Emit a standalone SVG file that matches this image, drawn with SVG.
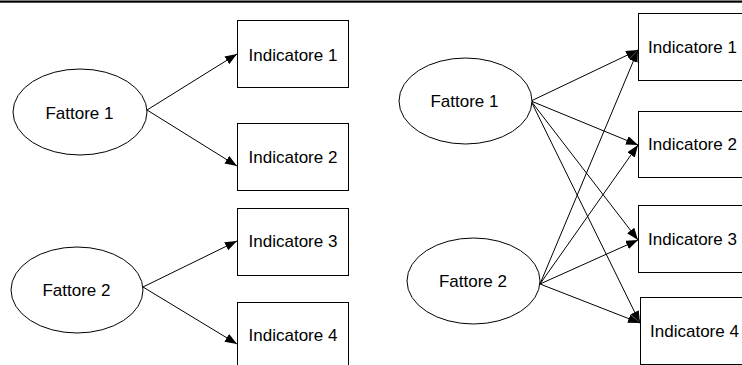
<svg xmlns="http://www.w3.org/2000/svg" width="742" height="365" viewBox="0 0 742 365">
<style>
.n{fill:#fff;stroke:#000;stroke-width:1}
.t{font-family:"Liberation Sans",Arial,sans-serif;font-size:17px;fill:#000;text-anchor:middle}
.c line{stroke:#000;stroke-width:1;marker-end:url(#ah)}
</style>
<defs>
<marker id="ah" markerUnits="userSpaceOnUse" markerWidth="13" markerHeight="10" refX="12" refY="4.5" orient="auto">
<path d="M0,0 L12,4.5 L0,9 z" fill="#000"/>
</marker>
</defs>
<rect x="0" y="0.5" width="742" height="2.2" fill="#000"/>
<g id="connectors" class="c">
<line x1="147" y1="110" x2="237" y2="54"/>
<line x1="147" y1="110" x2="237" y2="166"/>
<line x1="143" y1="287" x2="237" y2="241"/>
<line x1="143" y1="287" x2="237" y2="344"/>
<line x1="531" y1="101" x2="638" y2="50"/>
<line x1="531" y1="101" x2="638" y2="145"/>
<line x1="531" y1="101" x2="638" y2="240"/>
<line x1="531" y1="101" x2="640" y2="323"/>
<line x1="540" y1="284" x2="638" y2="50"/>
<line x1="540" y1="284" x2="638" y2="145"/>
<line x1="540" y1="284" x2="638" y2="240"/>
<line x1="540" y1="284" x2="640" y2="323"/>
</g>
<g id="L-F1"><ellipse class="n" cx="80" cy="112" rx="67" ry="43"/><text class="t" x="79.5" y="118.5">Fattore 1</text></g>
<g id="L-F2"><ellipse class="n" cx="77" cy="290" rx="66" ry="43"/><text class="t" x="76.5" y="295.5">Fattore 2</text></g>
<g id="L-I1"><rect class="n" x="237.5" y="20.5" width="111" height="67"/><text class="t" x="293" y="60.5">Indicatore 1</text></g>
<g id="L-I2"><rect class="n" x="237.5" y="123.5" width="111" height="67"/><text class="t" x="293" y="162.5">Indicatore 2</text></g>
<g id="L-I3"><rect class="n" x="237.5" y="208.5" width="111" height="67"/><text class="t" x="293" y="247">Indicatore 3</text></g>
<g id="L-I4"><rect class="n" x="237.5" y="302.5" width="111" height="67"/><text class="t" x="293" y="340.5">Indicatore 4</text></g>
<g id="R-F1"><ellipse class="n" cx="465.5" cy="101" rx="66.5" ry="43"/><text class="t" x="464.5" y="107">Fattore 1</text></g>
<g id="R-F2"><ellipse class="n" cx="473.5" cy="281" rx="66.5" ry="43"/><text class="t" x="473" y="287">Fattore 2</text></g>
<g id="R-I1"><rect class="n" x="638.5" y="13.5" width="111" height="67"/><text class="t" x="692.5" y="53">Indicatore 1</text></g>
<g id="R-I2"><rect class="n" x="638.5" y="111.5" width="111" height="66"/><text class="t" x="692.5" y="150">Indicatore 2</text></g>
<g id="R-I3"><rect class="n" x="638.5" y="205.5" width="111" height="67"/><text class="t" x="692.5" y="244.5">Indicatore 3</text></g>
<g id="R-I4"><rect class="n" x="640.5" y="297.5" width="111" height="67"/><text class="t" x="694.5" y="336.5">Indicatore 4</text></g>
</svg>
